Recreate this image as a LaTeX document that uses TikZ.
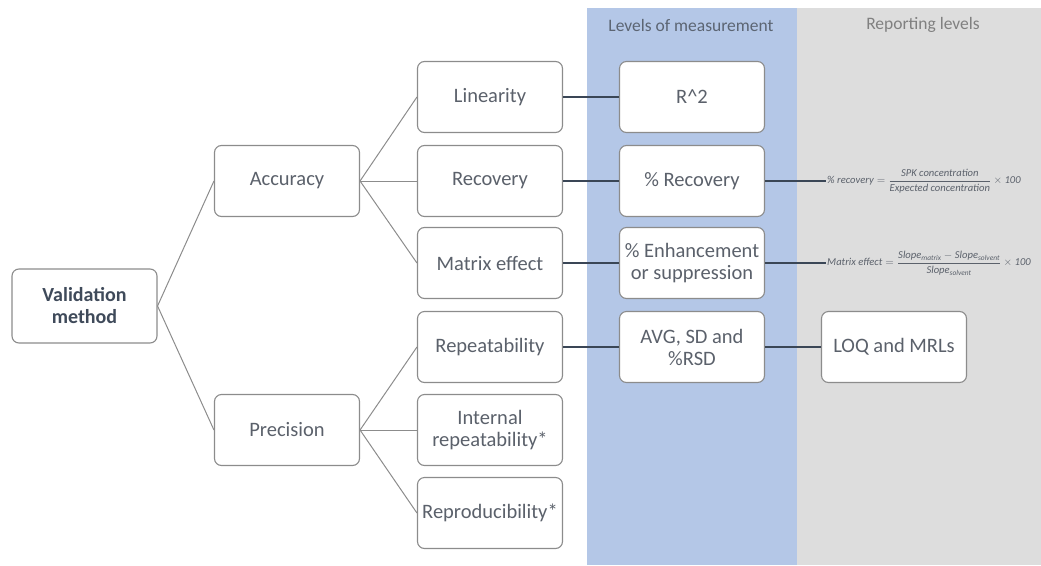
\documentclass[tikz,border=0pt]{standalone}
\usepackage{amsmath}
\usepackage{fontspec}
\setmainfont{Carlito}
\usetikzlibrary{positioning}
\definecolor{bandblue}{HTML}{B4C7E7}
\definecolor{bandgray}{HTML}{DDDDDD}
\definecolor{boxline}{HTML}{8C8C8C}
\definecolor{txtgray}{HTML}{5B616B}
\definecolor{darkslate}{HTML}{3F4A5A}
\definecolor{linkdark}{HTML}{3A4656}

\begin{document}
\begin{tikzpicture}[x=1pt, y=-1pt,
  box/.style={draw=boxline, line width=1.1pt, rounded corners=7pt, fill=white,
    minimum width=145pt, minimum height=71pt, align=center, inner sep=1pt,
    text=txtgray, font=\fontsize{20.5}{22}\selectfont},
  tree/.style={draw=boxline, line width=1pt},
  link/.style={draw=linkdark, line width=1.1pt},
  formula/.style={anchor=west, inner sep=1pt, text=txtgray, font=\fontsize{10.6}{12}\selectfont},
  header/.style={font=\fontsize{17.5}{20}\selectfont}]
\useasboundingbox (0,0) rectangle (1041,565);

% background bands
\fill[bandblue] (587,8) rectangle (797,565);
\fill[bandgray] (797,8) rectangle (1041,565);
\node[header, text=darkslate!85] (hdmeas) at (691,25) {Levels of measurement};
\node[header, text=gray] (hdrep) at (923,25) {Reporting levels};

% tree
\node[box, minimum height=74pt, text=darkslate, font=\fontsize{20}{22}\selectfont\bfseries] (valid) at (84.5,306) {Validation\\method};
\node[box] (acc) at (287,181) {Accuracy};
\node[box] (precis) at (287,430) {Precision};

\node[box] (lin) at (490,97) {Linearity};
\node[box] (rec) at (490,181) {Recovery};
\node[box] (mat) at (490,263) {Matrix effect};
\node[box] (rept) at (490,347) {Repeatability};
\node[box] (intrep) at (490,430) {Internal\\repeatability*};
\node[box] (repro) at (490,513) {Reproducibility*};

% levels of measurement
\node[box] (rsq) at (692,97) {R\^{}2};
\node[box] (pcrec) at (692,181) {\% Recovery};
\node[box] (enh) at (692,263) {\% Enhancement\\or suppression};
\node[box] (avg) at (692,347) {AVG, SD and\\\%RSD};

% reporting levels
\node[box] (loq) at (894,347) {LOQ and MRLs};
\node[formula] (frec) at (826,181)
  {$\textit{\% recovery} = \dfrac{\textit{SPK concentration}}{\textit{Expected concentration}} \times \textit{100}$};
\node[formula] (fmat) at (826,263)
  {$\textit{Matrix effect} = \dfrac{\textit{Slope}_{\textit{matrix}} - \textit{Slope}_{\textit{solvent}}}{\textit{Slope}_{\textit{solvent}}} \times \textit{100}$};

\draw[tree] (valid.east) -- (acc.west);
\draw[tree] (valid.east) -- (precis.west);
\foreach \c in {lin,rec,mat}
  \draw[tree] (acc.east) -- (\c.west);
\foreach \c in {rept,intrep,repro}
  \draw[tree] (precis.east) -- (\c.west);
\foreach \a/\b in {lin/rsq, rec/pcrec, mat/enh, rept/avg, avg/loq, pcrec/frec, enh/fmat}
  \draw[link] (\a.east) -- (\b.west);
\end{tikzpicture}
\end{document}
